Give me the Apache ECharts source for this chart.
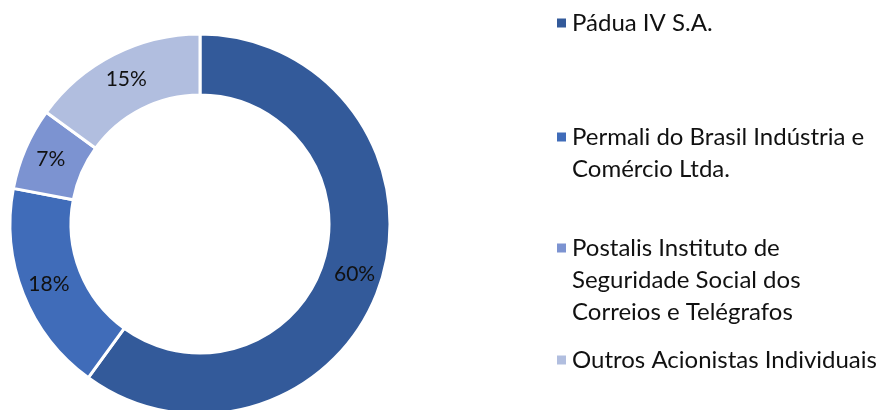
<!DOCTYPE html>
<html>
<head>
<meta charset="utf-8">
<script src="https://cdn.jsdelivr.net/npm/echarts@6/dist/echarts.min.js"></script>
<style>
  html, body { margin: 0; padding: 0; background: #fff; }
  #chart { width: 889px; height: 410px; }
</style>
</head>
<body>
<div id="chart"></div>
<script>
const names = [
  'Pádua IV S.A.',
  'Permali do Brasil Indústria e Comércio Ltda.',
  'Postalis Instituto de Seguridade Social dos Correios e Telégrafos',
  'Outros Acionistas Individuais'
]
// legend text as wrapped in the picture
const legendLines = [
  ['Pádua IV S.A.'],
  ['Permali do Brasil Indústria e', 'Comércio Ltda.'],
  ['Postalis Instituto de', 'Seguridade Social dos', 'Correios e Telégrafos'],
  ['Outros Acionistas Individuais']
]
const shares = [60, 18, 7, 15]
const colors = ['#335a9a', '#406cb9', '#7c93d1', '#b1bedf']

const chart = echarts.init(document.getElementById('chart'))

const font = 'Lato'
const lineH = 32
const iconCenters = [23, 137, 248, 360]

// one legend per item so the marker sits on the first text line
const legends = names.map((name, i) => {
  const n = legendLines[i].length
  return {
    data: [name],
    left: 555,
    top: iconCenters[i] - (2 * n - 1) * lineH / 2,
    padding: 0,
    icon: 'rect',
    itemWidth: 11,
    itemHeight: 11,
    selectedMode: false,
    // blank lines on top keep the first line centred on the marker
    formatter: () => '\n'.repeat(n - 1) + legendLines[i].join('\n'),
    textStyle: {
      fontFamily: font,
      fontSize: 24,
      lineHeight: lineH,
      color: '#111'
    }
  }
})

const option = {
  animation: false,
  color: colors,
  legend: legends,
  series: [{
    type: 'pie',
    center: [200, 224],
    radius: [129, 190],
    startAngle: 90,
    clockwise: true,
    itemStyle: {
      borderColor: '#fff',
      borderWidth: 3
    },
    label: {
      show: true,
      position: 'inside',
      formatter: '{c}%',
      fontFamily: font,
      fontSize: 21,
      color: '#111'
    },
    labelLine: { show: false },
    emphasis: { scale: false },
    data: names.map((name, i) => ({ name, value: shares[i] }))
  }]
}

chart.setOption(option)
</script>
</body>
</html>
